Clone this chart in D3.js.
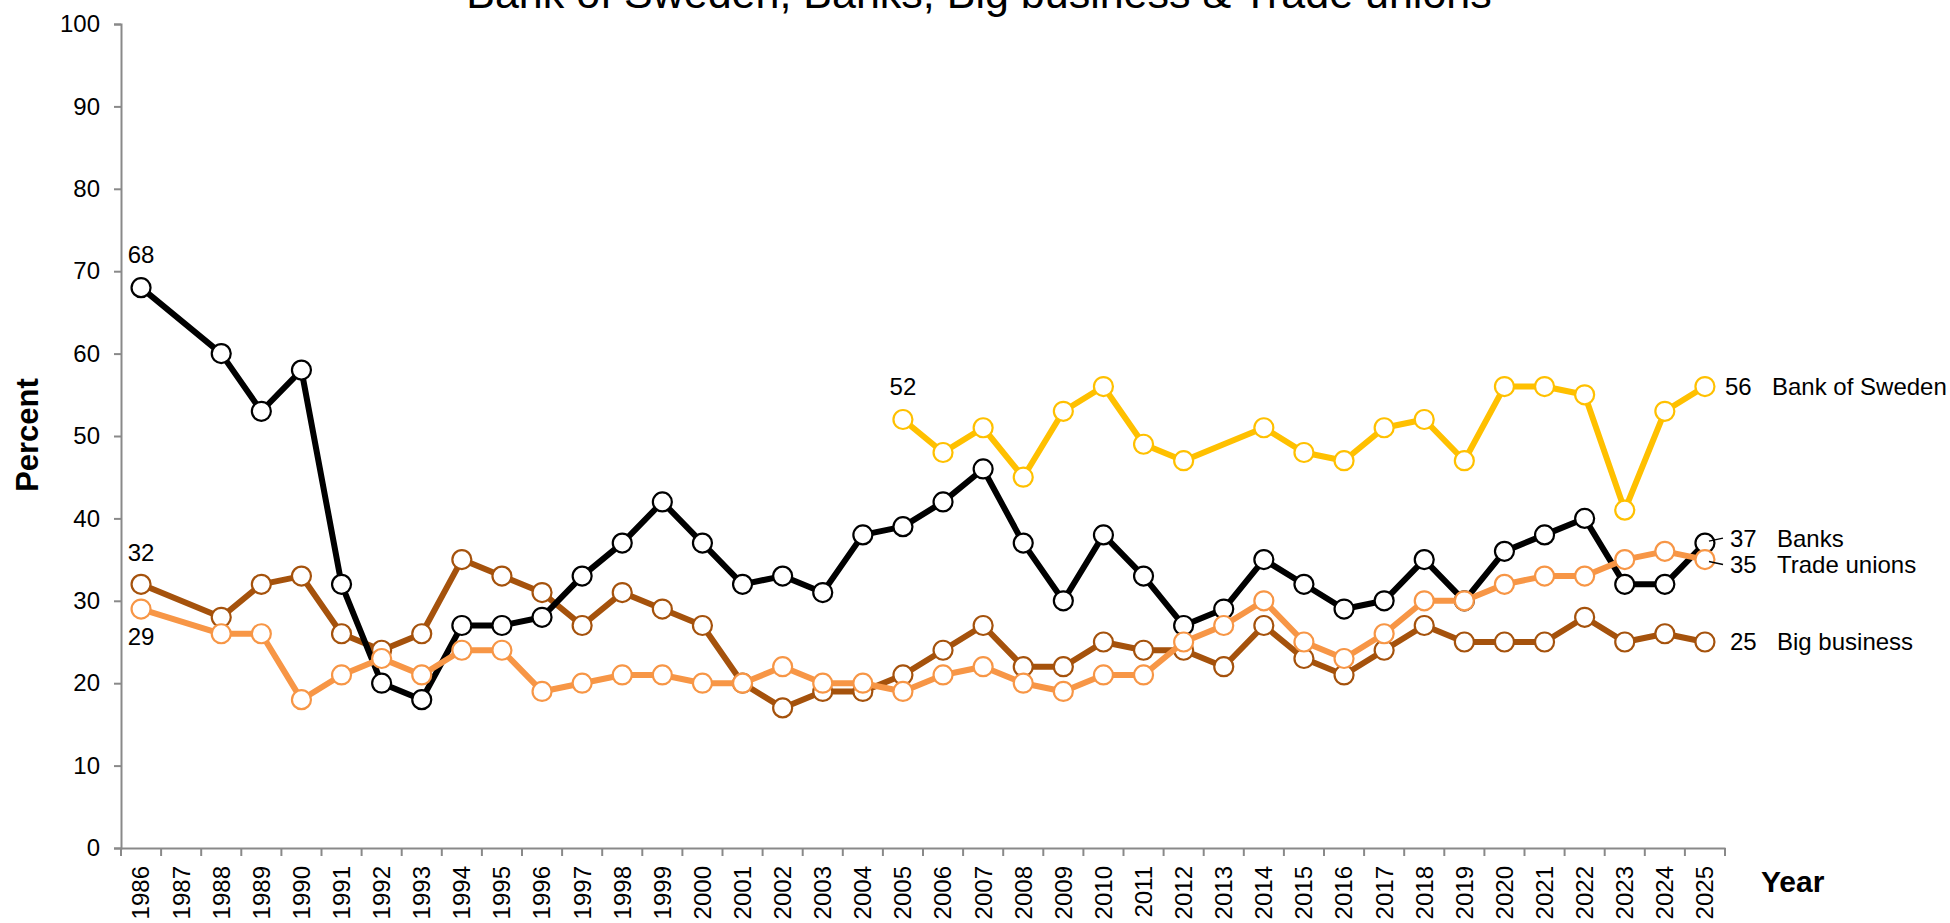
<!DOCTYPE html>
<html>
<head>
<meta charset="utf-8">
<script src="https://cdn.jsdelivr.net/npm/d3@7"></script>
<style>
  html, body { margin: 0; padding: 0; background: #fff; }
  svg { display: block; font-family: Arial, "Liberation Sans", sans-serif; }
</style>
</head>
<body>
<svg id="chart" width="1950" height="923"></svg>
<script>
const titleText = "Bank of Sweden, Banks, Big business & Trade unions";
const years = d3.range(1986, 2026).map(String);
const yTicks = [0, 10, 20, 30, 40, 50, 60, 70, 80, 90, 100];

const seriesNames = ["Big business", "Banks", "Bank of Sweden", "Trade unions"];
const seriesColors = ["#A5520C", "#000000", "#FFC000", "#F79646"];

const bankOfSweden = [null,null,null,null,null,null,null,null,null,null,
  null,null,null,null,null,null,null,null,null,52,
  48,51,45,53,56,49,47,null,51,48,
  47,51,52,47,56,56,55,41,53,56];
const banks = [68,null,60,53,58,32,20,18,27,27,
  28,33,37,42,37,32,33,31,38,39,
  42,46,37,30,38,33,27,29,35,32,
  29,30,35,30,36,38,40,32,32,37];
const bigBusiness = [32,null,28,32,33,26,24,26,35,33,
  31,27,31,29,27,20,17,19,19,21,
  24,27,22,22,25,24,24,22,27,23,
  21,24,27,25,25,25,28,25,26,25];
const tradeUnions = [29,null,26,26,18,21,23,21,24,24,
  19,20,21,21,20,20,22,20,20,19,
  21,22,20,19,21,21,25,27,30,25,
  23,26,30,30,32,33,33,35,36,35];
const seriesValues = [bigBusiness, banks, bankOfSweden, tradeUnions];

const svg = d3.select("#chart");
const margin = {left: 121, right: 1725, top: 24, bottom: 848};

const x = d3.scaleBand().domain(years).range([margin.left, margin.right]).padding(0);
const y = d3.scaleLinear().domain([0, 100]).range([margin.bottom, margin.top]);
const cx = yr => x(yr) + x.bandwidth() / 2;

// Title
svg.append("text").attr("x", 979).attr("y", 8).attr("text-anchor", "middle")
  .attr("font-size", 43).attr("fill", "#000").text(titleText);

// Y axis
const yAxis = svg.append("g").attr("transform", `translate(${margin.left},0)`)
  .call(d3.axisLeft(y).tickValues(yTicks).tickSize(7).tickPadding(14));
yAxis.select(".domain").attr("stroke", "#898989").attr("stroke-width", 2);
yAxis.selectAll(".tick line").attr("stroke", "#898989").attr("stroke-width", 2);
yAxis.selectAll(".tick text").attr("font-size", 24).attr("fill", "#000")
  .attr("font-family", "Arial, 'Liberation Sans', sans-serif");

// X axis (ticks at band boundaries)
const xAxis = svg.append("g").attr("transform", `translate(0,${margin.bottom})`)
  .call(d3.axisBottom(x).tickSize(0).tickFormat(""));
xAxis.select(".domain").attr("stroke", "#898989").attr("stroke-width", 2);
xAxis.selectAll(".tick").remove();
const bounds = years.map(yr => x(yr)).concat([x(years[years.length - 1]) + x.bandwidth()]);
xAxis.selectAll("line.bt").data(bounds).enter().append("line")
  .attr("x1", d => d).attr("x2", d => d).attr("y1", 0).attr("y2", 8)
  .attr("stroke", "#898989").attr("stroke-width", 2);
xAxis.selectAll("text.yl").data(years).enter().append("text")
  .attr("transform", d => `translate(${cx(d)},18) rotate(-90)`)
  .attr("text-anchor", "end").attr("dy", "0.35em")
  .attr("font-size", 24).attr("fill", "#000").text(d => d);

// Axis titles
svg.append("text").attr("transform", "translate(38,435) rotate(-90)")
  .attr("text-anchor", "middle").attr("font-size", 31).attr("font-weight", "bold")
  .text("Percent");
svg.append("text").attr("x", 1761).attr("y", 892)
  .attr("font-size", 30).attr("font-weight", "bold").text("Year");

// Series
const lineGen = d3.line().x(d => cx(d.year)).y(d => y(d.value));
seriesValues.forEach((vals, i) => {
  const pts = years.map((yr, j) => ({year: yr, value: vals[j]})).filter(d => d.value !== null);
  const g = svg.append("g");
  g.append("path").datum(pts).attr("d", lineGen).attr("fill", "none")
    .attr("stroke", seriesColors[i]).attr("stroke-width", 6)
    .attr("stroke-linejoin", "round");
  g.selectAll("circle").data(pts).enter().append("circle")
    .attr("cx", d => cx(d.year)).attr("cy", d => y(d.value)).attr("r", 9.5)
    .attr("fill", "#fff").attr("stroke", seriesColors[i]).attr("stroke-width", 2.2);
});

// Start value labels
const startLabels = [
  {series: 1, idx: 0, dy: -33},
  {series: 0, idx: 0, dy: -32},
  {series: 3, idx: 0, dy: 28},
  {series: 2, idx: 19, dy: -33}
];
startLabels.forEach(s => {
  const yr = years[s.idx];
  svg.append("text").attr("x", cx(yr)).attr("y", y(seriesValues[s.series][s.idx]) + s.dy)
    .attr("dy", "0.35em").attr("text-anchor", "middle").attr("font-size", 24)
    .text(seriesValues[s.series][s.idx]);
});

// End labels
const last = years.length - 1;
const endOffsets = [0, -5, 0, 5];
const endShift = [0, 0, -5, 0];
const endLabelOrder = [2, 1, 3, 0];
endLabelOrder.forEach(i => {
  const v = seriesValues[i][last];
  const ly = y(v) + endOffsets[i];
  svg.append("text").attr("x", 1730 + endShift[i]).attr("y", ly).attr("dy", "0.35em")
    .attr("font-size", 24).text(v);
  svg.append("text").attr("x", 1777 + endShift[i]).attr("y", ly).attr("dy", "0.35em")
    .attr("font-size", 24).text(seriesNames[i]);
  if (endOffsets[i] !== 0) {
    svg.append("line").attr("x1", cx(years[last]) + 4).attr("y1", y(v) + endOffsets[i] * 0.4)
      .attr("x2", 1723).attr("y2", ly).attr("stroke", "#000").attr("stroke-width", 1.5);
  }
});
</script>
</body>
</html>
